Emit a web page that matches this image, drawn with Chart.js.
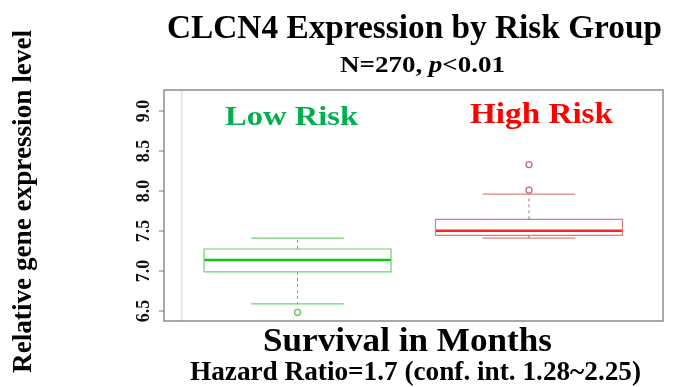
<!DOCTYPE html>
<html lang="en">
<head>
<meta charset="utf-8" />
<title>CLCN4 Expression by Risk Group</title>
<style>
  html, body { margin: 0; padding: 0; background: #fff; }
  #wrap { position: relative; width: 681px; height: 387px; }
</style>
</head>
<body>
<div id="wrap"><canvas id="chart"></canvas></div>
<script src="https://cdn.jsdelivr.net/npm/chart.js@4.4.1/dist/chart.umd.min.js"></script>
<script>
// values
const groups = ["Low Risk", "High Risk"];
const groupX = [1, 2];
const q1 = [6.988, 7.446];
const median = [7.137, 7.504];
const q3 = [7.275, 7.646];
const whiskerLow = [6.59, 7.41];
const whiskerHigh = [7.41, 7.96];
const outliers = [[6.484], [8.01, 8.33]];
const yTicks = [6.5, 7.0, 7.5, 8.0, 8.5, 9.0];

const boxHalf = 0.404;
const capHalf = 0.2;
const FONT = "'Liberation Serif', 'Times New Roman', serif";

const styles = [
  { box: "#6fcf6f", med: "#10c810", cap: "#6fcf6f", stem: "#8a9a8a", out: "#5cc05c", label: "#00b050" },
  { box: "#e07a7a", med: "#ff2424", cap: "#e08080", stem: "#b07070", out: "#c86a6a", label: "#ff0000" }
];

function line(points, color, width, dash) {
  return {
    data: points, showLine: true, borderColor: color, borderWidth: width,
    borderDash: dash || [], pointRadius: 0, fill: false, tension: 0
  };
}

const datasets = [];
// faint vertical rule near the left of the frame
datasets.push(line([{ x: 0.5, y: 6.0 }, { x: 0.5, y: 10 }], "#d8d8d8", 1.2));

groupX.forEach(function (c, i) {
  const s = styles[i];
  datasets.push(line([{ x: c, y: q3[i] }, { x: c, y: whiskerHigh[i] }], s.stem, 1, [3, 3]));
  datasets.push(line([{ x: c, y: q1[i] }, { x: c, y: whiskerLow[i] }], s.stem, 1, [3, 3]));
  datasets.push(line([
    { x: c - boxHalf, y: q1[i] }, { x: c + boxHalf, y: q1[i] },
    { x: c + boxHalf, y: q3[i] }, { x: c - boxHalf, y: q3[i] },
    { x: c - boxHalf, y: q1[i] }
  ], s.box, 1.2));
  datasets.push(line([{ x: c - capHalf, y: whiskerHigh[i] }, { x: c + capHalf, y: whiskerHigh[i] }], s.cap, 1.2));
  datasets.push(line([{ x: c - capHalf, y: whiskerLow[i] }, { x: c + capHalf, y: whiskerLow[i] }], s.cap, 1.2));
  datasets.push(line([{ x: c - boxHalf, y: median[i] }, { x: c + boxHalf, y: median[i] }], s.med, 2.6));
  datasets.push({
    data: outliers[i].map(function (v) { return { x: c, y: v }; }),
    showLine: false, pointStyle: "circle", pointRadius: 3,
    pointBackgroundColor: "rgba(255,255,255,0)", pointBorderColor: s.out, pointBorderWidth: 1.3
  });
});

// draws text segments centred on cx, stretched to a given width (the source text is wide)
function fitText(ctx, segs, cx, baseline, width) {
  let total = 0;
  segs.forEach(function (s) { ctx.font = s.font; total += ctx.measureText(s.text).width; });
  ctx.save();
  ctx.translate(cx - width / 2, baseline);
  ctx.scale(width / total, 1);
  ctx.textAlign = "left";
  ctx.textBaseline = "alphabetic";
  let x = 0;
  segs.forEach(function (s) {
    ctx.font = s.font;
    ctx.fillText(s.text, x, 0);
    x += ctx.measureText(s.text).width;
  });
  ctx.restore();
}

function b(size) { return "bold " + size + "px " + FONT; }

const textPlugin = {
  id: "texts",
  afterDraw: function (chart) {
    const ctx = chart.ctx;
    const a = chart.chartArea;
    const ys = chart.scales.y;
    const xs = chart.scales.x;
    ctx.save();
    // frame
    ctx.strokeStyle = "#8c8c8c";
    ctx.lineWidth = 1.5;
    ctx.strokeRect(a.left, a.top, a.right - a.left, a.bottom - a.top);
    // y ticks, rotated like base R
    ctx.fillStyle = "#111";
    ctx.strokeStyle = "#777";
    ctx.lineWidth = 1;
    ctx.font = b(18);
    ctx.textAlign = "center";
    ctx.textBaseline = "middle";
    yTicks.forEach(function (t) {
      const py = ys.getPixelForValue(t);
      ctx.beginPath();
      ctx.moveTo(a.left - 5, py);
      ctx.lineTo(a.left, py);
      ctx.stroke();
      ctx.save();
      ctx.translate(a.left - 20, py);
      ctx.rotate(-Math.PI / 2);
      ctx.fillText(t.toFixed(1), 0, 0);
      ctx.restore();
    });
    // titles
    ctx.fillStyle = "#000";
    fitText(ctx, [{ text: "CLCN4 Expression by Risk Group", font: b(33) }], 414.5, 38, 495);
    fitText(ctx, [
      { text: "N=270, ", font: b(24) },
      { text: "p", font: "italic " + b(24) },
      { text: "<0.01", font: b(24) }
    ], 422.5, 72, 165);
    fitText(ctx, [{ text: "Survival in Months", font: b(34) }], 407.5, 351, 289);
    fitText(ctx, [{ text: "Hazard Ratio=1.7 (conf. int. 1.28~2.25)", font: b(28) }], 415.5, 380, 451);
    // y axis title
    ctx.save();
    ctx.translate(31, 201.5);
    ctx.rotate(-Math.PI / 2);
    fitText(ctx, [{ text: "Relative gene expression level", font: b(27) }], 0, 0, 343);
    ctx.restore();
    // group labels inside the plot
    ctx.fillStyle = styles[0].label;
    fitText(ctx, [{ text: groups[0], font: b(28) }], xs.getPixelForValue(groupX[0]) - 6, 125, 133);
    ctx.fillStyle = styles[1].label;
    fitText(ctx, [{ text: groups[1], font: b(30) }], xs.getPixelForValue(groupX[1]) + 12.5, 123, 143);
    ctx.restore();
  }
};

new Chart(document.getElementById("chart"), {
  type: "scatter",
  data: { datasets: datasets },
  options: {
    responsive: true,
    maintainAspectRatio: false,
    animation: false,
    layout: { padding: { left: 164, top: 90, right: 18, bottom: 66 } },
    plugins: { legend: { display: false }, tooltip: { enabled: false } },
    scales: {
      x: { type: "linear", min: 0.423, max: 2.579, display: false },
      y: { type: "linear", min: 6.375, max: 9.2625, display: false }
    }
  },
  plugins: [textPlugin]
});
</script>
</body>
</html>
